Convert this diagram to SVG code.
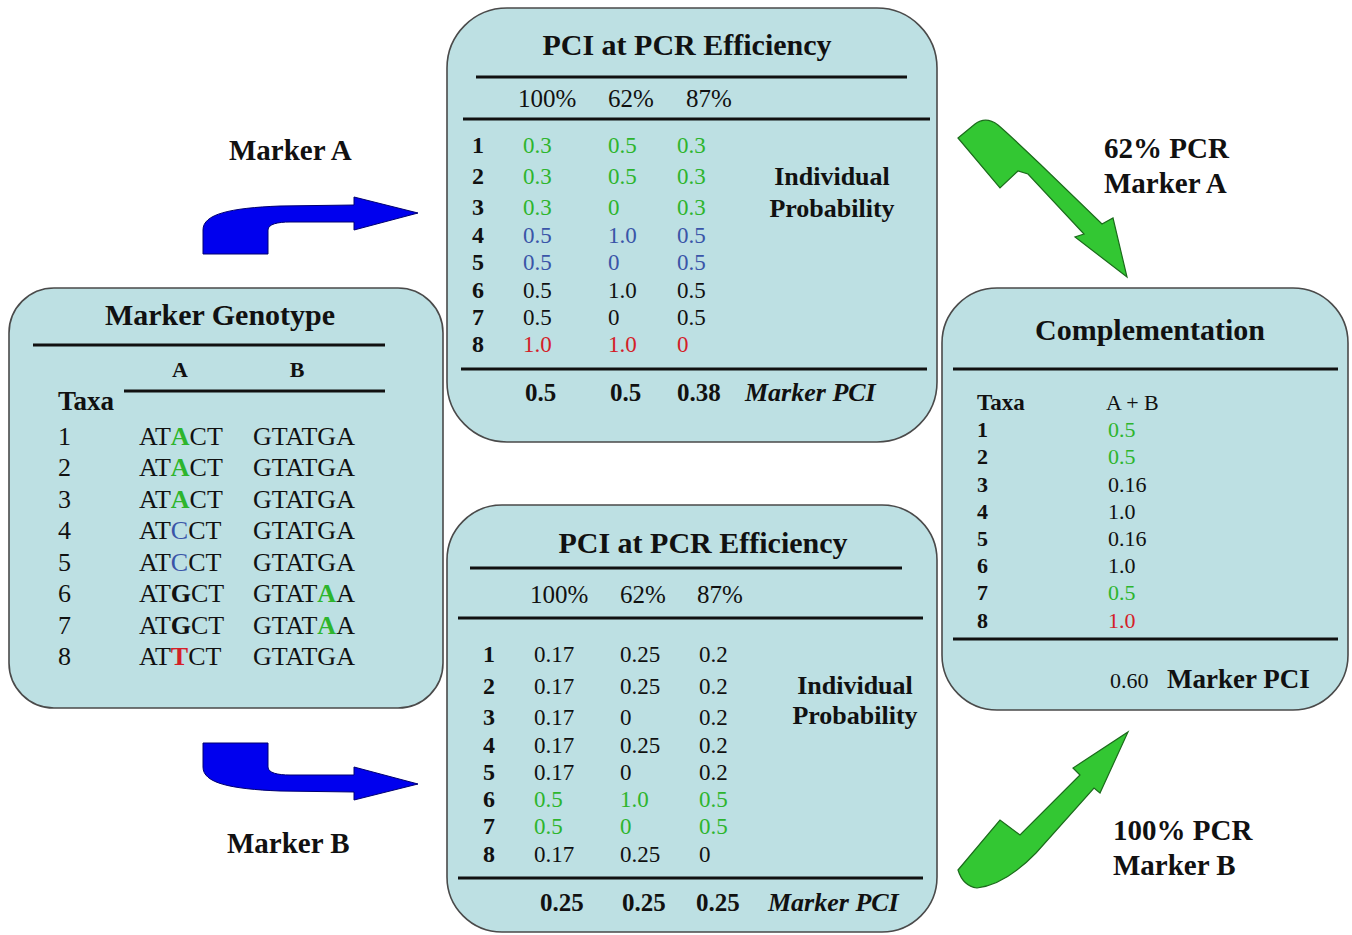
<svg xmlns="http://www.w3.org/2000/svg" width="1352" height="935" viewBox="0 0 1352 935">
  <style>
    text { font-family: "Liberation Serif", "Times New Roman", serif; fill: #111; }
    .box { fill: #bde0e3; stroke: #4a4a4a; stroke-width: 1.6; }
    .rule { stroke: #111; stroke-width: 3; }
    .title { font-size: 30px; font-weight: bold; text-anchor: middle; }
    .lbl { font-size: 29px; font-weight: bold; }
    .seq { font-size: 26px; }
    .hdr { font-size: 25px; }
    .num { font-size: 24px; font-weight: bold; }
    .val { font-size: 23px; }
    .foot { font-size: 25px; font-weight: bold; }
    .mpci { font-size: 26px; font-weight: bold; font-style: italic; }
    .ip { font-size: 26px; font-weight: bold; text-anchor: middle; }
    .g { fill: #2db52d; }
    .b { fill: #3a55a8; }
    .r { fill: #d42028; }
    .hb { font-weight: bold; }
    .sm { font-size: 22px; }
    .smb { font-size: 22px; font-weight: bold; }
    .blue { fill: #0000ee; stroke: #000070; stroke-width: 1; }
    .green { fill: #33c733; stroke: #1b6b1b; stroke-width: 1.2; }
  </style>

  <!-- connectors: curved block arrows -->
  <g id="connectors">
    <path class="blue" d="M203,254 L203,230 C203,214 230,208 280,206 L354,205 L354,197 L418,213 L354,230 L354,222 L290,222 C278,222 268,224 268,230 L268,254 Z"/>
    <path class="blue" d="M203,743 L203,767 C203,783 230,789 280,791 L354,792 L354,800 L418,784 L354,767 L354,775 L290,775 C278,775 268,773 268,767 L268,743 Z"/>
    <path class="green" d="M958,138 L975,124 Q986,116 998,125 C1012,137 1025,150 1040,164 L1102,224 L1113,218 L1127,277 L1075,237 L1084,234 L1028,174 L1018,171 L1000,188 Z"/>
    <path class="green" d="M958,870 L1000,820 L1020,835 L1080,775 L1073,768 L1128,732 L1100,793 L1094,788 L1036,853 Q1005,885 977,888 Q963,886 958,870 Z"/>
  </g>

  <!-- arrow labels -->
  <g id="labels">
    <text class="lbl" x="229" y="160">Marker A</text>
    <text class="lbl" x="227" y="853">Marker B</text>
    <text class="lbl" x="1104" y="158">62% PCR</text>
    <text class="lbl" x="1104" y="193">Marker A</text>
    <text class="lbl" x="1113" y="840">100% PCR</text>
    <text class="lbl" x="1113" y="875">Marker B</text>
  </g>

  <!-- genotype table -->
  <g id="genotype">
    <rect class="box" x="9" y="288" width="434" height="420" rx="45"/>
    <text class="title" x="220" y="325">Marker Genotype</text>
    <line class="rule" x1="33" y1="345" x2="385" y2="345"/>
    <text x="180" y="377" style="font-size:22px;font-weight:bold;text-anchor:middle">A</text>
    <text x="297" y="377" style="font-size:22px;font-weight:bold;text-anchor:middle">B</text>
    <line class="rule" x1="124" y1="391" x2="385" y2="391"/>
    <text x="58" y="410" style="font-size:27px;font-weight:bold">Taxa</text>
    <g class="seq">
      <text x="58" y="445">1</text>
      <text x="58" y="476">2</text>
      <text x="58" y="508">3</text>
      <text x="58" y="539">4</text>
      <text x="58" y="571">5</text>
      <text x="58" y="602">6</text>
      <text x="58" y="634">7</text>
      <text x="58" y="665">8</text>
      <text x="139" y="445">AT<tspan class="g hb">A</tspan>CT</text>
      <text x="139" y="476">AT<tspan class="g hb">A</tspan>CT</text>
      <text x="139" y="508">AT<tspan class="g hb">A</tspan>CT</text>
      <text x="139" y="539">AT<tspan class="b">C</tspan>CT</text>
      <text x="139" y="571">AT<tspan class="b">C</tspan>CT</text>
      <text x="139" y="602">AT<tspan class="hb">G</tspan>CT</text>
      <text x="139" y="634">AT<tspan class="hb">G</tspan>CT</text>
      <text x="139" y="665">AT<tspan class="r hb">T</tspan>CT</text>
      <text x="253" y="445">GTATGA</text>
      <text x="253" y="476">GTATGA</text>
      <text x="253" y="508">GTATGA</text>
      <text x="253" y="539">GTATGA</text>
      <text x="253" y="571">GTATGA</text>
      <text x="253" y="602">GTAT<tspan class="g hb">A</tspan>A</text>
      <text x="253" y="634">GTAT<tspan class="g hb">A</tspan>A</text>
      <text x="253" y="665">GTATGA</text>
    </g>
  </g>

  <!-- marker A probabilities -->
  <g id="pci-marker-a">
    <rect class="box" x="447" y="8" width="490" height="434" rx="60"/>
    <text class="title" x="687" y="55">PCI at PCR Efficiency</text>
    <line class="rule" x1="476" y1="77" x2="907" y2="77"/>
    <text class="hdr" x="518" y="107">100%</text>
    <text class="hdr" x="608" y="107">62%</text>
    <text class="hdr" x="686" y="107">87%</text>
    <line class="rule" x1="463" y1="119" x2="930" y2="119"/>
    <g class="num">
      <text x="472" y="153">1</text>
      <text x="472" y="184">2</text>
      <text x="472" y="215">3</text>
      <text x="472" y="243">4</text>
      <text x="472" y="270">5</text>
      <text x="472" y="298">6</text>
      <text x="472" y="325">7</text>
      <text x="472" y="352">8</text>
    </g>
    <g class="val">
      <text class="g" x="523" y="153">0.3</text><text class="g" x="608" y="153">0.5</text><text class="g" x="677" y="153">0.3</text>
      <text class="g" x="523" y="184">0.3</text><text class="g" x="608" y="184">0.5</text><text class="g" x="677" y="184">0.3</text>
      <text class="g" x="523" y="215">0.3</text><text class="g" x="608" y="215">0</text><text class="g" x="677" y="215">0.3</text>
      <text class="b" x="523" y="243">0.5</text><text class="b" x="608" y="243">1.0</text><text class="b" x="677" y="243">0.5</text>
      <text class="b" x="523" y="270">0.5</text><text class="b" x="608" y="270">0</text><text class="b" x="677" y="270">0.5</text>
      <text x="523" y="298">0.5</text><text x="608" y="298">1.0</text><text x="677" y="298">0.5</text>
      <text x="523" y="325">0.5</text><text x="608" y="325">0</text><text x="677" y="325">0.5</text>
      <text class="r" x="523" y="352">1.0</text><text class="r" x="608" y="352">1.0</text><text class="r" x="677" y="352">0</text>
    </g>
    <text class="ip" x="832" y="185">Individual</text>
    <text class="ip" x="832" y="217">Probability</text>
    <line class="rule" x1="461" y1="369" x2="927" y2="369"/>
    <text class="foot" x="525" y="401">0.5</text>
    <text class="foot" x="610" y="401">0.5</text>
    <text class="foot" x="677" y="401">0.38</text>
    <text class="mpci" x="745" y="401">Marker PCI</text>
  </g>

  <!-- marker B probabilities -->
  <g id="pci-marker-b">
    <rect class="box" x="447" y="505" width="490" height="427" rx="55"/>
    <text class="title" x="703" y="553">PCI at PCR Efficiency</text>
    <line class="rule" x1="470" y1="568" x2="902" y2="568"/>
    <text class="hdr" x="530" y="603">100%</text>
    <text class="hdr" x="620" y="603">62%</text>
    <text class="hdr" x="697" y="603">87%</text>
    <line class="rule" x1="458" y1="618" x2="923" y2="618"/>
    <g class="num">
      <text x="483" y="662">1</text>
      <text x="483" y="694">2</text>
      <text x="483" y="725">3</text>
      <text x="483" y="753">4</text>
      <text x="483" y="780">5</text>
      <text x="483" y="807">6</text>
      <text x="483" y="834">7</text>
      <text x="483" y="862">8</text>
    </g>
    <g class="val">
      <text x="534" y="662">0.17</text><text x="620" y="662">0.25</text><text x="699" y="662">0.2</text>
      <text x="534" y="694">0.17</text><text x="620" y="694">0.25</text><text x="699" y="694">0.2</text>
      <text x="534" y="725">0.17</text><text x="620" y="725">0</text><text x="699" y="725">0.2</text>
      <text x="534" y="753">0.17</text><text x="620" y="753">0.25</text><text x="699" y="753">0.2</text>
      <text x="534" y="780">0.17</text><text x="620" y="780">0</text><text x="699" y="780">0.2</text>
      <text class="g" x="534" y="807">0.5</text><text class="g" x="620" y="807">1.0</text><text class="g" x="699" y="807">0.5</text>
      <text class="g" x="534" y="834">0.5</text><text class="g" x="620" y="834">0</text><text class="g" x="699" y="834">0.5</text>
      <text x="534" y="862">0.17</text><text x="620" y="862">0.25</text><text x="699" y="862">0</text>
    </g>
    <text class="ip" x="855" y="694">Individual</text>
    <text class="ip" x="855" y="724">Probability</text>
    <line class="rule" x1="458" y1="878" x2="923" y2="878"/>
    <text class="foot" x="540" y="911">0.25</text>
    <text class="foot" x="622" y="911">0.25</text>
    <text class="foot" x="696" y="911">0.25</text>
    <text class="mpci" x="768" y="911">Marker PCI</text>
  </g>

  <!-- combined result -->
  <g id="complementation">
    <rect class="box" x="942" y="288" width="406" height="422" rx="55"/>
    <text class="title" x="1150" y="340">Complementation</text>
    <line class="rule" x1="953" y1="369" x2="1338" y2="369"/>
    <text class="smb" x="977" y="410" style="font-size:23px">Taxa</text>
    <text class="sm" x="1106" y="410">A + B</text>
    <g class="smb">
      <text x="977" y="437">1</text>
      <text x="977" y="464">2</text>
      <text x="977" y="492">3</text>
      <text x="977" y="519">4</text>
      <text x="977" y="546">5</text>
      <text x="977" y="573">6</text>
      <text x="977" y="600">7</text>
      <text x="977" y="628">8</text>
    </g>
    <g class="sm">
      <text class="g" x="1108" y="437">0.5</text>
      <text class="g" x="1108" y="464">0.5</text>
      <text x="1108" y="492">0.16</text>
      <text x="1108" y="519">1.0</text>
      <text x="1108" y="546">0.16</text>
      <text x="1108" y="573">1.0</text>
      <text class="g" x="1108" y="600">0.5</text>
      <text class="r" x="1108" y="628">1.0</text>
    </g>
    <line class="rule" x1="953" y1="639" x2="1338" y2="639"/>
    <text class="sm" x="1110" y="688">0.60</text>
    <text x="1167" y="688" style="font-size:27px;font-weight:bold">Marker PCI</text>
  </g>
</svg>
